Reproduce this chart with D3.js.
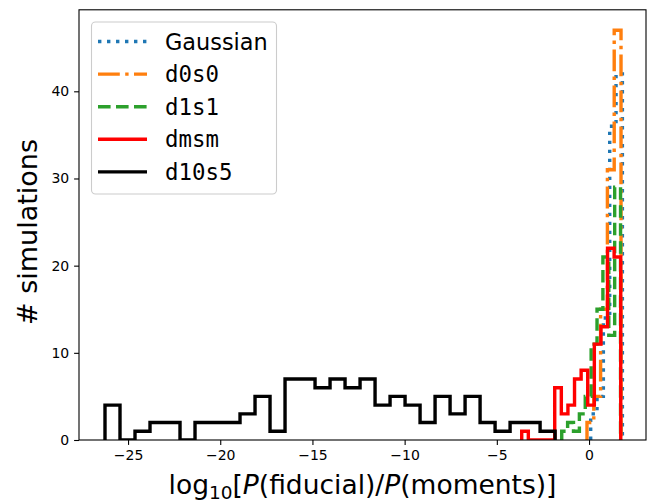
<!DOCTYPE html>
<html><head><meta charset="utf-8">
<script src="https://cdn.jsdelivr.net/npm/d3@7"></script>
<style>body{margin:0;background:#fff}</style>
</head><body>
<svg id="chart" width="648" height="503"></svg>
<script>
// ---- data ----
const seriesNames = ["Gaussian", "d0s0", "d1s1", "dmsm", "d10s5"];
// histogram ranges [first edge, last edge] in data units, and bin counts
const gaussianRange = [0.09, 1.81];
const gaussianCounts = [3, 5, 14, 36, 42];
const d0s0Range = [-0.11, 1.735];
const d0s0Counts = [2, 5, 15, 31, 47];
const d1s1Range = [-1.48, 1.71];
const d1s1Counts = [1, 2, 1, 3, 5, 11, 15, 21, 12, 29];
const dmsmRange = [-3.65, 1.72];
const dmsmCounts = [1, 0, 0, 0, 0, 6, 3, 4, 7, 8, 4, 11, 13, 22, 21];
const d10s5Range = [-26.25, -1.84];
const d10s5Counts = [4, 0, 1, 2, 2, 0, 2, 2, 2, 3, 5, 1, 7, 7, 6, 7, 6, 7, 4, 5, 4, 2, 5, 3, 5, 2, 1, 2, 2, 1];
const xTicks = [-25, -20, -15, -10, -5, 0];
const yTicks = [0, 10, 20, 30, 40];
const xDomain = [-27.66, 3.09];
const yDomain = [0, 49.35];

// ---- styles ----
const LW = 3.4;
const styles = {
  "Gaussian": {color: "#1f77b4", dash: "3.4,5.6", font: "DejaVu Sans"},
  "d0s0": {color: "#ff7f0e", dash: "21.8,5.4,3.4,5.4", font: "DejaVu Sans Mono"},
  "d1s1": {color: "#2ca02c", dash: "12.6,5.4", font: "DejaVu Sans Mono"},
  "dmsm": {color: "#ff0000", dash: null, font: "DejaVu Sans Mono"},
  "d10s5": {color: "#000000", dash: null, font: "DejaVu Sans Mono"}
};
const hists = [
  {name: "Gaussian", range: gaussianRange, counts: gaussianCounts},
  {name: "d0s0", range: d0s0Range, counts: d0s0Counts},
  {name: "d1s1", range: d1s1Range, counts: d1s1Counts},
  {name: "dmsm", range: dmsmRange, counts: dmsmCounts},
  {name: "d10s5", range: d10s5Range, counts: d10s5Counts}
];

const L = 79, R = 646, T = 9.8, B = 440;
const svg = d3.select("#chart");
const x = d3.scaleLinear().domain(xDomain).range([L, R]);
const y = d3.scaleLinear().domain(yDomain).range([B, T]);

svg.append("defs").append("clipPath").attr("id", "clip")
  .append("rect").attr("x", L).attr("y", T).attr("width", R - L).attr("height", B - T);

const line = d3.line().x(d => x(d[0])).y(d => y(d[1]));
function stepPoints(h) {
  const n = h.counts.length;
  const edges = d3.range(n + 1).map(i => h.range[0] + (h.range[1] - h.range[0]) * i / n);
  const pts = [[edges[0], 0]];
  for (let i = 0; i < n; i++) {
    pts.push([edges[i], h.counts[i]]);
    pts.push([edges[i + 1], h.counts[i]]);
  }
  pts.push([edges[n], 0]);
  return pts;
}

const g = svg.append("g").attr("clip-path", "url(#clip)");
hists.forEach(h => {
  const s = styles[h.name];
  g.append("path").attr("d", line(stepPoints(h)))
    .attr("fill", "none").attr("stroke", s.color).attr("stroke-width", LW)
    .attr("stroke-dasharray", s.dash).attr("stroke-linejoin", "miter");
});

// axes
const xAxis = d3.axisBottom(x).tickValues(xTicks).tickSize(4.9).tickPadding(4.9)
  .tickFormat(d => d < 0 ? "\u2212" + Math.abs(d) : d);
const yAxis = d3.axisLeft(y).tickValues(yTicks).tickSize(4.9).tickPadding(4.9);
const gx = svg.append("g").attr("transform", `translate(0,${B})`).call(xAxis);
const gy = svg.append("g").attr("transform", `translate(${L},0)`).call(yAxis);
[gx, gy].forEach(a => {
  a.select(".domain").remove();
  a.selectAll("line").attr("stroke", "#000").attr("stroke-width", 1.1);
  a.selectAll("text").attr("font-family", "DejaVu Sans").attr("font-size", 14).attr("fill", "#000");
});
svg.append("rect").attr("x", L).attr("y", T).attr("width", R - L).attr("height", B - T)
  .attr("fill", "none").attr("stroke", "#000").attr("stroke-width", 1.1);

// axis labels
svg.append("text").attr("transform", `translate(37,232) rotate(-90)`)
  .attr("text-anchor", "middle").attr("font-family", "DejaVu Sans").attr("font-size", 27)
  .text("# simulations");
const xl = svg.append("text").attr("x", (L + R) / 2).attr("y", 494)
  .attr("text-anchor", "middle").attr("font-family", "DejaVu Sans").attr("font-size", 26.5);
xl.append("tspan").text("log");
xl.append("tspan").attr("font-size", 18.5).attr("dy", 5).text("10");
xl.append("tspan").attr("dy", -5).text("[");
xl.append("tspan").attr("font-style", "italic").text("P");
xl.append("tspan").text("(fiducial)/");
xl.append("tspan").attr("font-style", "italic").text("P");
xl.append("tspan").text("(moments)]");

// legend
const lg = svg.append("g");
lg.append("rect").attr("x", 91.5).attr("y", 22).attr("width", 185).attr("height", 172).attr("rx", 4)
  .attr("fill", "#fff").attr("fill-opacity", 0.8).attr("stroke", "#cccccc").attr("stroke-width", 1.1);
seriesNames.forEach((n, i) => {
  const s = styles[n];
  const cy = 41.5 + i * 32.6;
  lg.append("line").attr("x1", 98).attr("x2", 147).attr("y1", cy).attr("y2", cy)
    .attr("stroke", s.color).attr("stroke-width", LW).attr("stroke-dasharray", s.dash);
  lg.append("text").attr("x", 165).attr("y", cy).attr("dy", "0.36em")
    .attr("font-family", s.font).attr("font-size", 22.4).text(n);
});
</script>
</body></html>
